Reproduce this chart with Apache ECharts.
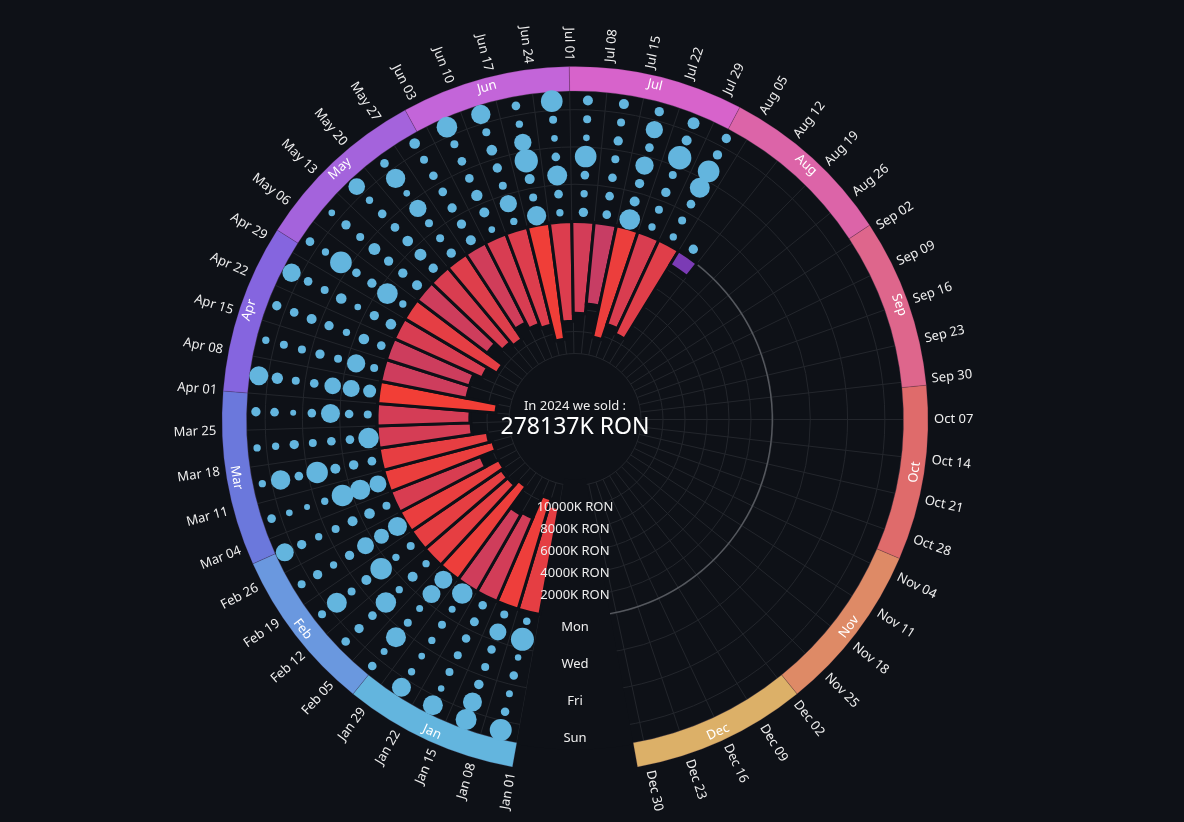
<!DOCTYPE html>
<html>
<head>
<meta charset="utf-8">
<script src="https://cdn.jsdelivr.net/npm/echarts@6/dist/echarts.min.js"></script>
<style>
html,body{margin:0;padding:0;background:#0e1117;}
#chart{width:1184px;height:822px;}
</style>
</head>
<body>
<div id="chart"></div>
<script>
// ---------------- DATA ----------------
const year = 2024;
const totalSoldK = 278137;
const weekdays = ['Mon', 'Tue', 'Wed', 'Thu', 'Fri', 'Sat', 'Sun'];
const months = ['Jan', 'Feb', 'Mar', 'Apr', 'May', 'Jun', 'Jul', 'Aug', 'Sep', 'Oct', 'Nov', 'Dec'];
const monthDays = [31, 29, 31, 30, 31, 30, 31, 31, 30, 31, 30, 31];
const weekLabels = [
  'Jan 01', 'Jan 08', 'Jan 15', 'Jan 22', 'Jan 29', 'Feb 05', 'Feb 12', 'Feb 19', 'Feb 26',
  'Mar 04', 'Mar 11', 'Mar 18', 'Mar 25', 'Apr 01', 'Apr 08', 'Apr 15', 'Apr 22', 'Apr 29',
  'May 06', 'May 13', 'May 20', 'May 27', 'Jun 03', 'Jun 10', 'Jun 17', 'Jun 24',
  'Jul 01', 'Jul 08', 'Jul 15', 'Jul 22', 'Jul 29', 'Aug 05', 'Aug 12', 'Aug 19', 'Aug 26',
  'Sep 02', 'Sep 09', 'Sep 16', 'Sep 23', 'Sep 30', 'Oct 07', 'Oct 14', 'Oct 21', 'Oct 28',
  'Nov 04', 'Nov 11', 'Nov 18', 'Nov 25', 'Dec 02', 'Dec 09', 'Dec 16', 'Dec 23', 'Dec 30'
];
// weekly totals (K RON), one per week starting Jan 01
const weeklySalesK = [
  9820, 10450, 8280, 8070, 10440, 9900, 9900, 10170, 8800, 10260, 9940, 8550, 8440, 10790,
  7970, 7930, 8750, 9750, 8000, 8860, 9250, 8140, 8750, 9150, 10650, 9060, 8340, 7450,
  10330, 8880, 9410, 1490
];
// daily sales (K RON), Mon..Sun per week, from Jan 01
const dailySalesK = [
  900, 2760, 780, 1020, 840, 1020, 2640,
  960, 2040, 1020, 960, 1140, 2280, 2520,
  1020, 1080, 1020, 960, 960, 780, 2400,
  2460, 840, 960, 880, 800, 880, 2280,
  2160, 2160, 840, 960, 2400, 840, 1040,
  880, 1200, 880, 2460, 1040, 1120, 1040,
  960, 880, 2580, 1200, 960, 2400, 960,
  2280, 1800, 2040, 1120, 880, 1120, 960,
  960, 1280, 1200, 960, 880, 1120, 2160,
  2040, 2400, 2580, 880, 720, 800, 1040,
  1040, 1140, 1200, 2580, 1040, 2340, 880,
  2460, 1040, 1040, 960, 1120, 880, 880,
  960, 1040, 2280, 1040, 720, 1040, 1120,
  1560, 2040, 2000, 1040, 960, 1360, 2280,
  960, 2200, 960, 1120, 960, 960, 880,
  1040, 1280, 880, 1120, 1200, 1040, 1120,
  1280, 1120, 800, 1280, 960, 1040, 2200,
  880, 2480, 1120, 1040, 2600, 880, 1040,
  1200, 1120, 1120, 1440, 960, 1120, 800,
  1120, 1440, 1280, 1040, 1040, 880, 2000,
  1120, 960, 960, 2080, 800, 2320, 1040,
  1200, 1120, 1120, 1040, 1040, 960, 1280,
  800, 1200, 1360, 1040, 1040, 960, 2480,
  880, 2080, 960, 1120, 1280, 960, 2320,
  2320, 960, 1200, 2800, 2080, 880, 1040,
  880, 1040, 2400, 1040, 800, 960, 2600,
  1120, 880, 1040, 2600, 800, 960, 1200,
  1040, 1040, 1040, 960, 1120, 960, 1200,
  2480, 1200, 1120, 2200, 1040, 2080, 1120,
  880, 960, 1120, 960, 2800, 1200, 1440,
  880, 960, 1040, 2400, 2600, 1120, 1120,
  1120
];

// ---------------- STYLE / LAYOUT ----------------
const BG = '#0e1117';
const GRID = '#23262c';
const FONT = '"Noto Sans", sans-serif';
const TEXT = '#eeeeee';
const monthColors = ['#63b5de', '#6a98df', '#6b78dc', '#8565df', '#a463dc', '#c365d9',
                     '#d763cb', '#dc64a8', '#de668c', '#df6b6b', '#de8a66', '#dcb068'];
const CENTER = [575, 419.5];
const DAY_MIN = -11, DAY_MAX = 377;            // angle axis span (days) -> full circle
const SPAN = DAY_MAX - DAY_MIN;
const DAYS_IN_YEAR = monthDays.reduce((a, b) => a + b, 0);
const WEEK_DEG = 7 * 360 / SPAN;
const YEAR_START_ANGLE = 270 - (0 - DAY_MIN) * 360 / SPAN;
const LABEL_R = 359;
const dayCats = [];
for (let d = DAY_MIN; d < DAY_MAX; d++) dayCats.push(String(d));
const weekTick = function (idx) {
  const d = idx + DAY_MIN;
  return d >= 0 && d <= (weekLabels.length - 1) * 7 && d % 7 === 0;
};
const daysElapsed = dailySalesK.length;

const hiddenAngle = (i) => ({
  polarIndex: i, type: 'value', min: DAY_MIN, max: DAY_MAX, startAngle: 270, clockwise: true,
  axisLine: {show: false}, axisTick: {show: false}, axisLabel: {show: false}, splitLine: {show: false}
});
const hiddenRadius = (i, extra) => Object.assign({
  polarIndex: i, axisLine: {show: false}, axisTick: {show: false}, axisLabel: {show: false}, splitLine: {show: false}
}, extra);
const radLabel = {
  color: TEXT, fontSize: 13, fontFamily: FONT, margin: 0, align: 'center', verticalAlign: 'middle'
};

function renderWeekLabel(params, api) {
  const day = api.value(0);
  const p = api.coord([LABEL_R, day]);
  const cs = params.coordSys;
  const dx = p[0] - cs.cx, dy = p[1] - cs.cy;
  let rot = Math.atan2(-dy, dx);
  const right = dx >= 0;
  if (!right) rot = rot > 0 ? rot - Math.PI : rot + Math.PI;
  return {
    type: 'text', x: p[0], y: p[1], rotation: rot,
    style: {
      text: weekLabels[params.dataIndex], fill: TEXT, fontSize: 13, fontFamily: FONT,
      align: right ? 'left' : 'right', verticalAlign: 'middle'
    }
  };
}

const chart = echarts.init(document.getElementById('chart'));
const option = {
  backgroundColor: BG,
  animation: false,
  title: {
    text: 'In ' + year + ' we sold :',
    subtext: totalSoldK + 'K RON',
    left: 575, top: 400, textAlign: 'center', padding: 0, itemGap: 3,
    textStyle: {color: TEXT, fontSize: 13, fontWeight: 'normal', fontFamily: FONT},
    subtextStyle: {color: '#ffffff', fontSize: 23, fontFamily: FONT}
  },
  visualMap: {
    type: 'continuous', show: false, seriesIndex: 0, dimension: 0,
    min: 1500, max: 10800, inRange: {color: ['#7b3bb5', '#f23e36']}
  },
  polar: [
    {center: CENTER, radius: [66, 328.5]},   // 0: radial week grid
    {center: CENTER, radius: [66, 198]},     // 1: weekly bars
    {center: CENTER, radius: [198, 328.5]},  // 2: daily dots
    {center: CENTER, radius: [0, 400]},      // 3: week labels
    {center: CENTER, radius: [196.6, 198]},  // 4: rest of year arc
    {center: CENTER, radius: [66, 198]},     // 5: bar axis labels
    {center: CENTER, radius: [198, 328.5]}   // 6: weekday labels
  ],
  angleAxis: [
    {
      polarIndex: 0, type: 'category', data: dayCats, boundaryGap: false, startAngle: 270, clockwise: true,
      axisLine: {show: false},
      axisTick: {show: false, interval: weekTick},
      axisLabel: {show: false, interval: weekTick},
      splitLine: {show: true, interval: weekTick, lineStyle: {color: GRID, width: 1}}
    },
    hiddenAngle(1), hiddenAngle(2), hiddenAngle(3), hiddenAngle(4), hiddenAngle(5), hiddenAngle(6)
  ],
  radiusAxis: [
    hiddenRadius(0, {type: 'value', min: 0, max: 1}),
    {
      polarIndex: 1, type: 'value', inverse: true, min: 0, max: 12000, interval: 2000,
      axisLine: {show: false}, axisTick: {show: false}, axisLabel: {show: false},
      splitLine: {show: true, lineStyle: {color: GRID}}
    },
    {
      polarIndex: 2, type: 'category', data: weekdays,
      axisLine: {show: false}, axisTick: {show: false},
      axisLabel: {show: false, interval: 1},
      splitLine: {show: true, interval: 1, lineStyle: {color: GRID}}
    },
    hiddenRadius(3, {type: 'value', min: 0, max: 400}),
    hiddenRadius(4, {type: 'category', data: ['rest']}),
    {
      polarIndex: 5, type: 'value', inverse: true, min: 0, max: 12000, interval: 2000, z: 10,
      axisLine: {show: false}, axisTick: {show: false}, splitLine: {show: false},
      axisLabel: Object.assign({
        formatter: (v) => v + 'K RON', showMinLabel: false, showMaxLabel: false
      }, radLabel)
    },
    {
      polarIndex: 6, type: 'category', data: weekdays, z: 10,
      axisLine: {show: false}, axisTick: {show: false}, splitLine: {show: false},
      axisLabel: Object.assign({interval: 1}, radLabel)
    }
  ],
  series: [
    {
      name: 'weekly', type: 'bar', coordinateSystem: 'polar', polarIndex: 1,
      data: weeklySalesK.map((v, k) => [v, k * 7 + 3.5]),
      barWidth: WEEK_DEG,
      itemStyle: {borderColor: BG, borderWidth: 3},
      z: 3, silent: true
    },
    {
      name: 'daily', type: 'scatter', coordinateSystem: 'polar', polarIndex: 2,
      data: dailySalesK.map((v, i) => [i % 7, Math.floor(i / 7) * 7 + 3.5, v]),
      symbolSize: (val) => val[2] / 120,
      itemStyle: {color: '#63b5de', opacity: 1},
      z: 4, silent: true
    },
    {
      name: 'weekLabels', type: 'custom', coordinateSystem: 'polar', polarIndex: 3,
      data: weekLabels.map((l, k) => [k * 7]),
      dimensions: ['day'], encode: {angle: 'day'},
      renderItem: renderWeekLabel, z: 5, silent: true
    },
    {
      type: 'bar', coordinateSystem: 'polar', polarIndex: 4, stack: 'rest',
      data: [daysElapsed], barWidth: '100%', itemStyle: {color: 'rgba(0,0,0,0)'}, silent: true, z: 1
    },
    {
      type: 'bar', coordinateSystem: 'polar', polarIndex: 4, stack: 'rest',
      data: [DAYS_IN_YEAR - daysElapsed], barWidth: '100%', itemStyle: {color: '#56595f'}, silent: true, z: 1
    },
    {
      // masks the circular grid outside of the year (the opening at the bottom)
      name: 'outsideYear', type: 'pie', center: CENTER, radius: [60, 330],
      startAngle: YEAR_START_ANGLE, clockwise: true, silent: true, z: 1,
      label: {show: false}, labelLine: {show: false},
      data: [
        {name: 'year', value: DAYS_IN_YEAR, itemStyle: {color: 'rgba(0,0,0,0)'}},
        {name: 'outside', value: SPAN - DAYS_IN_YEAR, itemStyle: {color: BG}}
      ]
    },
    {
      name: 'months', type: 'pie', center: CENTER, radius: [328.5, 353],
      startAngle: YEAR_START_ANGLE, clockwise: true, silent: true,
      avoidLabelOverlap: false, z: 2,
      label: {show: true, position: 'inside', rotate: 'tangential', formatter: '{b}',
              color: '#ffffff', fontSize: 13, fontFamily: FONT},
      labelLine: {show: false},
      data: months.map((m, i) => ({
        name: m, value: monthDays[i],
        itemStyle: {color: monthColors[i], borderColor: 'rgba(60,30,60,0.35)', borderWidth: 0.6}
      })).concat([{
        name: '', value: SPAN - DAYS_IN_YEAR,
        itemStyle: {color: 'rgba(0,0,0,0)', borderWidth: 0}, label: {show: false}
      }])
    }
  ]
};
chart.setOption(option);
</script>
</body>
</html>
